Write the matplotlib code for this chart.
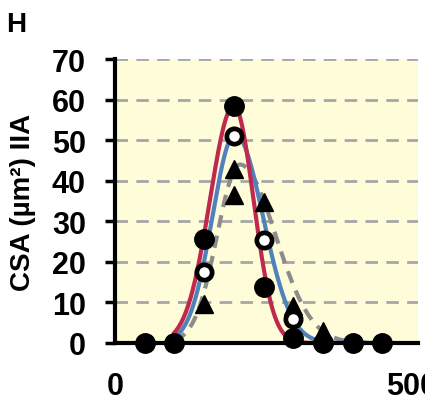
import numpy as np
import matplotlib
matplotlib.use("Agg")
import matplotlib.pyplot as plt

plt.rcParams['font.family'] = ['Liberation Sans', 'DejaVu Sans']
plt.rcParams['font.weight'] = 'bold'

# Data
x_pts = [50, 100, 150, 200, 250, 300, 350, 400, 450]
filled_y = [0, 0, 25.6, 58.5, 13.8, 1.2, 0, 0, 0]
open_x = [150, 200, 250, 300]
open_y = [17.6, 51.0, 25.5, 6.0]
tri_x = [150, 200, 200, 250, 300, 350]
tri_y = [9.6, 43.0, 36.5, 34.7, 9.2, 3.0]

# Fitted curve parameters: peak, centre, sigma left, sigma right
red_fit = [58.5, 200, 40, 33]
blue_fit = [51.5, 202, 38, 47]
gray_fit = [44.0, 210, 38, 60]
fit_range = [100, 460]

yticks = [0, 10, 20, 30, 40, 50, 60, 70]
xticks = [0, 500]


def fit_curve(p, xs):
    a, c, sl, sr = p
    s = np.where(xs < c, sl, sr)
    return a * np.exp(-(xs - c) ** 2 / (2 * s ** 2))


fig = plt.figure(figsize=(4.25, 4.02), dpi=100)
ax = fig.add_axes([0.2706, 0.1443, 0.7130, 0.7064])
ax.set_facecolor('#FFFDD9')

xs = np.linspace(fit_range[0], fit_range[1], 400)
ax.plot(xs, fit_curve(gray_fit, xs), color='#8C8C8C', lw=3, ls=(0, (3, 2)), zorder=3)
ax.plot(xs, fit_curve(blue_fit, xs), color='#4F81BD', lw=3, zorder=4)
ax.plot(xs, fit_curve(red_fit, xs), color='#C0284E', lw=3, zorder=5)

ax.plot(tri_x, tri_y, ls='none', marker='^', ms=12.5, color='black', clip_on=False, zorder=6)
ax.plot(open_x, open_y, ls='none', marker='o', ms=11, mfc='white', mec='black', mew=3.4,
        clip_on=False, zorder=7)
ax.plot(x_pts, filled_y, ls='none', marker='o', ms=14, color='black', clip_on=False, zorder=8)

ax.set_xlim(0, 510)
ax.set_ylim(0, 70)
ax.set_yticks(yticks)
ax.set_xticks(xticks)
ax.set_xticklabels([str(v) for v in xticks])
for y in yticks[1:]:
    ax.axhline(y, color='#A6A6A6', lw=2, ls=(0, (4.5, 3)), zorder=1)

for s in ['top', 'right']:
    ax.spines[s].set_visible(False)
for s in ['left', 'bottom']:
    ax.spines[s].set_linewidth(3)
    ax.spines[s].set_zorder(9)

ax.tick_params(axis='y', direction='out', length=7, width=2.5, pad=14, labelsize=22)
ax.tick_params(axis='x', length=0, pad=20, labelsize=22)
for lab in ax.get_xticklabels() + ax.get_yticklabels():
    lab.set_fontweight('bold')

ax.set_ylabel('CSA (µm²) IIA', fontsize=20, fontweight='bold')
ax.yaxis.set_label_coords(-0.262, 0.5)
fig.text(0.015, 0.938, 'H', fontsize=20, fontweight='bold', va='center', ha='left')

fig.savefig('out.png', dpi=100)
